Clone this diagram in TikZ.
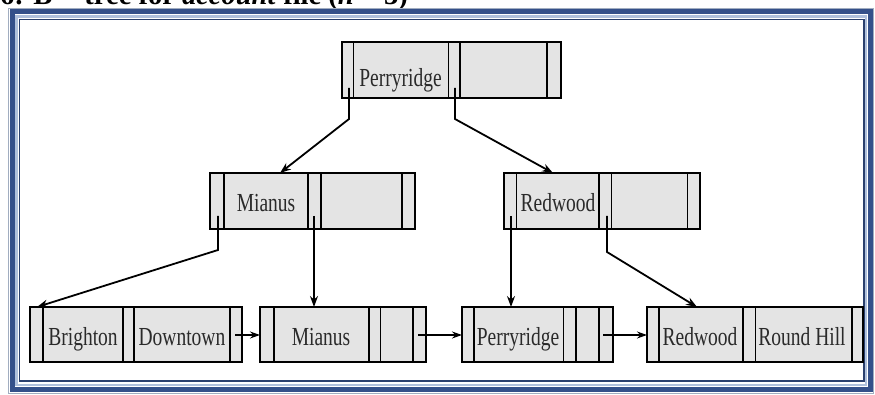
\documentclass[tikz,border=0pt]{standalone}
\usepackage{fontspec}
\setmainfont[FakeStretch=0.75]{Liberation Serif}
\newfontfamily\titlefont{Liberation Serif}
\usetikzlibrary{arrows.meta}
\definecolor{cellfill}{HTML}{E4E4E4}
\definecolor{navy}{HTML}{34508A}
\definecolor{lightblue}{HTML}{AFC0DC}
\definecolor{txt}{HTML}{2A2A2A}
\tikzset{
  bbox/.style={draw=black, line width=2.4pt, fill=cellfill, inner sep=0pt, outer sep=0pt, anchor=north west, minimum height=56pt},
  lbl/.style={anchor=base, inner sep=0pt, text=txt, font=\fontsize{26}{28}\selectfont},
  thin div/.style={line width=1pt},
  thick div/.style={line width=2pt},
  conn/.style={line width=1.8pt, -{Stealth[length=11pt,width=8pt]}},
  lconn/.style={line width=1.2pt, -{Stealth[length=10pt,width=7pt]}}
}
\begin{document}
\begin{tikzpicture}[x=1pt,y=-1pt]
\useasboundingbox (0,0) rectangle (875,395);
\fill[white] (0,0) rectangle (875,395);
% title (cut off at the top)
\node[anchor=base west, inner sep=0pt, font=\titlefont\fontsize{28.5}{30}\selectfont\bfseries] (title) at (0,4.5) {6: B$^{+}$- tree for \textit{account} file (\textit{n} = 3)};
% frame
\draw[line width=1pt, color=lightblue!70!gray] (8.5,8.5) rectangle (873,393);
\draw[line width=5pt, color=navy] (12,12) rectangle (870,389);
\draw[line width=2.5pt, color=lightblue] (16.5,16.5) rectangle (866,385);
\draw[line width=1.5pt, color=navy!80!black] (19.5,19.5) rectangle (864,381);

% root node
\node[bbox, minimum width=219pt] (root) at (342,42) {};
\draw[thin div] (353,42) -- (353,98);
\draw[thin div] (448,42) -- (448,98);
\draw[thick div] (460,42) -- (460,98);
\draw[thick div] (547,42) -- (547,98);
\node[lbl] (rootk1) at (400.5,87) {Perryridge};

% internal nodes
\node[bbox, minimum width=205pt] (inA) at (210,173) {};
\draw[thick div] (224,173) -- (224,229);
\draw[thick div] (308,173) -- (308,229);
\draw[line width=2.6pt] (321,173) -- (321,229);
\draw[thick div] (402,173) -- (402,229);
\node[lbl] (inAk1) at (266,212) {Mianus};

\node[bbox, minimum width=196pt] (inB) at (504,173) {};
\draw[thin div] (516,173) -- (516,229);
\draw[thick div] (599,173) -- (599,229);
\draw[thin div] (611,173) -- (611,229);
\draw[thin div] (687,173) -- (687,229);
\node[lbl] (inBk1) at (558,212) {Redwood};

% leaves
\node[bbox, minimum width=212pt, minimum height=55pt] (leaf1) at (30,307) {};
\draw[thick div] (43,307) -- (43,362);
\draw[thick div] (123,307) -- (123,362);
\draw[thick div] (134,307) -- (134,362);
\draw[thick div] (230,307) -- (230,362);
\node[lbl] (l1k1) at (83,345) {Brighton};
\node[lbl] (l1k2) at (182,345) {Downtown};

\node[bbox, minimum width=166pt, minimum height=55pt] (leaf2) at (260,307) {};
\draw[thick div] (274,307) -- (274,362);
\draw[thick div] (369,307) -- (369,362);
\draw[thin div] (380,307) -- (380,362);
\draw[thick div] (413,307) -- (413,362);
\node[lbl] (l2k1) at (321,345) {Mianus};

\node[bbox, minimum width=151pt, minimum height=55pt] (leaf3) at (462,307) {};
\draw[thick div] (474,307) -- (474,362);
\draw[thin div] (563,307) -- (563,362);
\draw[thick div] (576,307) -- (576,362);
\draw[thick div] (599,307) -- (599,362);
\node[lbl] (l3k1) at (518,345) {Perryridge};

\node[bbox, minimum width=216pt, minimum height=55pt] (leaf4) at (647,307) {};
\draw[thick div] (659,307) -- (659,362);
\draw[thick div] (743,307) -- (743,362);
\draw[thin div] (755,307) -- (755,362);
\draw[thick div] (852,307) -- (852,362);
\node[lbl] (l4k1) at (700,345) {Redwood};
\node[lbl] (l4k2) at (802,345) {Round Hill};

% pointer coordinates
\coordinate (rP1) at (349,88);  \coordinate (rB1) at (349,119);
\coordinate (rP2) at (455,88);  \coordinate (rB2) at (455,119);
\coordinate (aP1) at (218,216); \coordinate (aB1) at (218,250);
\coordinate (aP2) at (314,216);
\coordinate (bP1) at (511,216);
\coordinate (bP2) at (607,216); \coordinate (bB2) at (607,252);
\coordinate (l1P) at (235,335);
\coordinate (l2P) at (418,335);
\coordinate (l3P) at (603,335);

% connectors
\draw[conn] (rP1) -- (rB1) -- (inA.north west -| 280,0);
\draw[conn] (rP2) -- (rB2) -- (inB.north west -| 553,0);
\draw[conn] (aP1) -- (aB1) -- (leaf1.north west -| 37,0);
\draw[conn, line width=1.2pt] (aP2) -- (aP2 |- leaf2.north);
\draw[conn, line width=1.2pt] (bP1) -- (bP1 |- leaf3.north);
\draw[conn] (bP2) -- (bB2) -- (leaf4.north west -| 697,0);
\draw[lconn] (l1P) -- (l1P -| leaf2.west);
\draw[lconn] (l2P) -- (l2P -| leaf3.west);
\draw[lconn] (l3P) -- (l3P -| leaf4.west);
\end{tikzpicture}
\end{document}
